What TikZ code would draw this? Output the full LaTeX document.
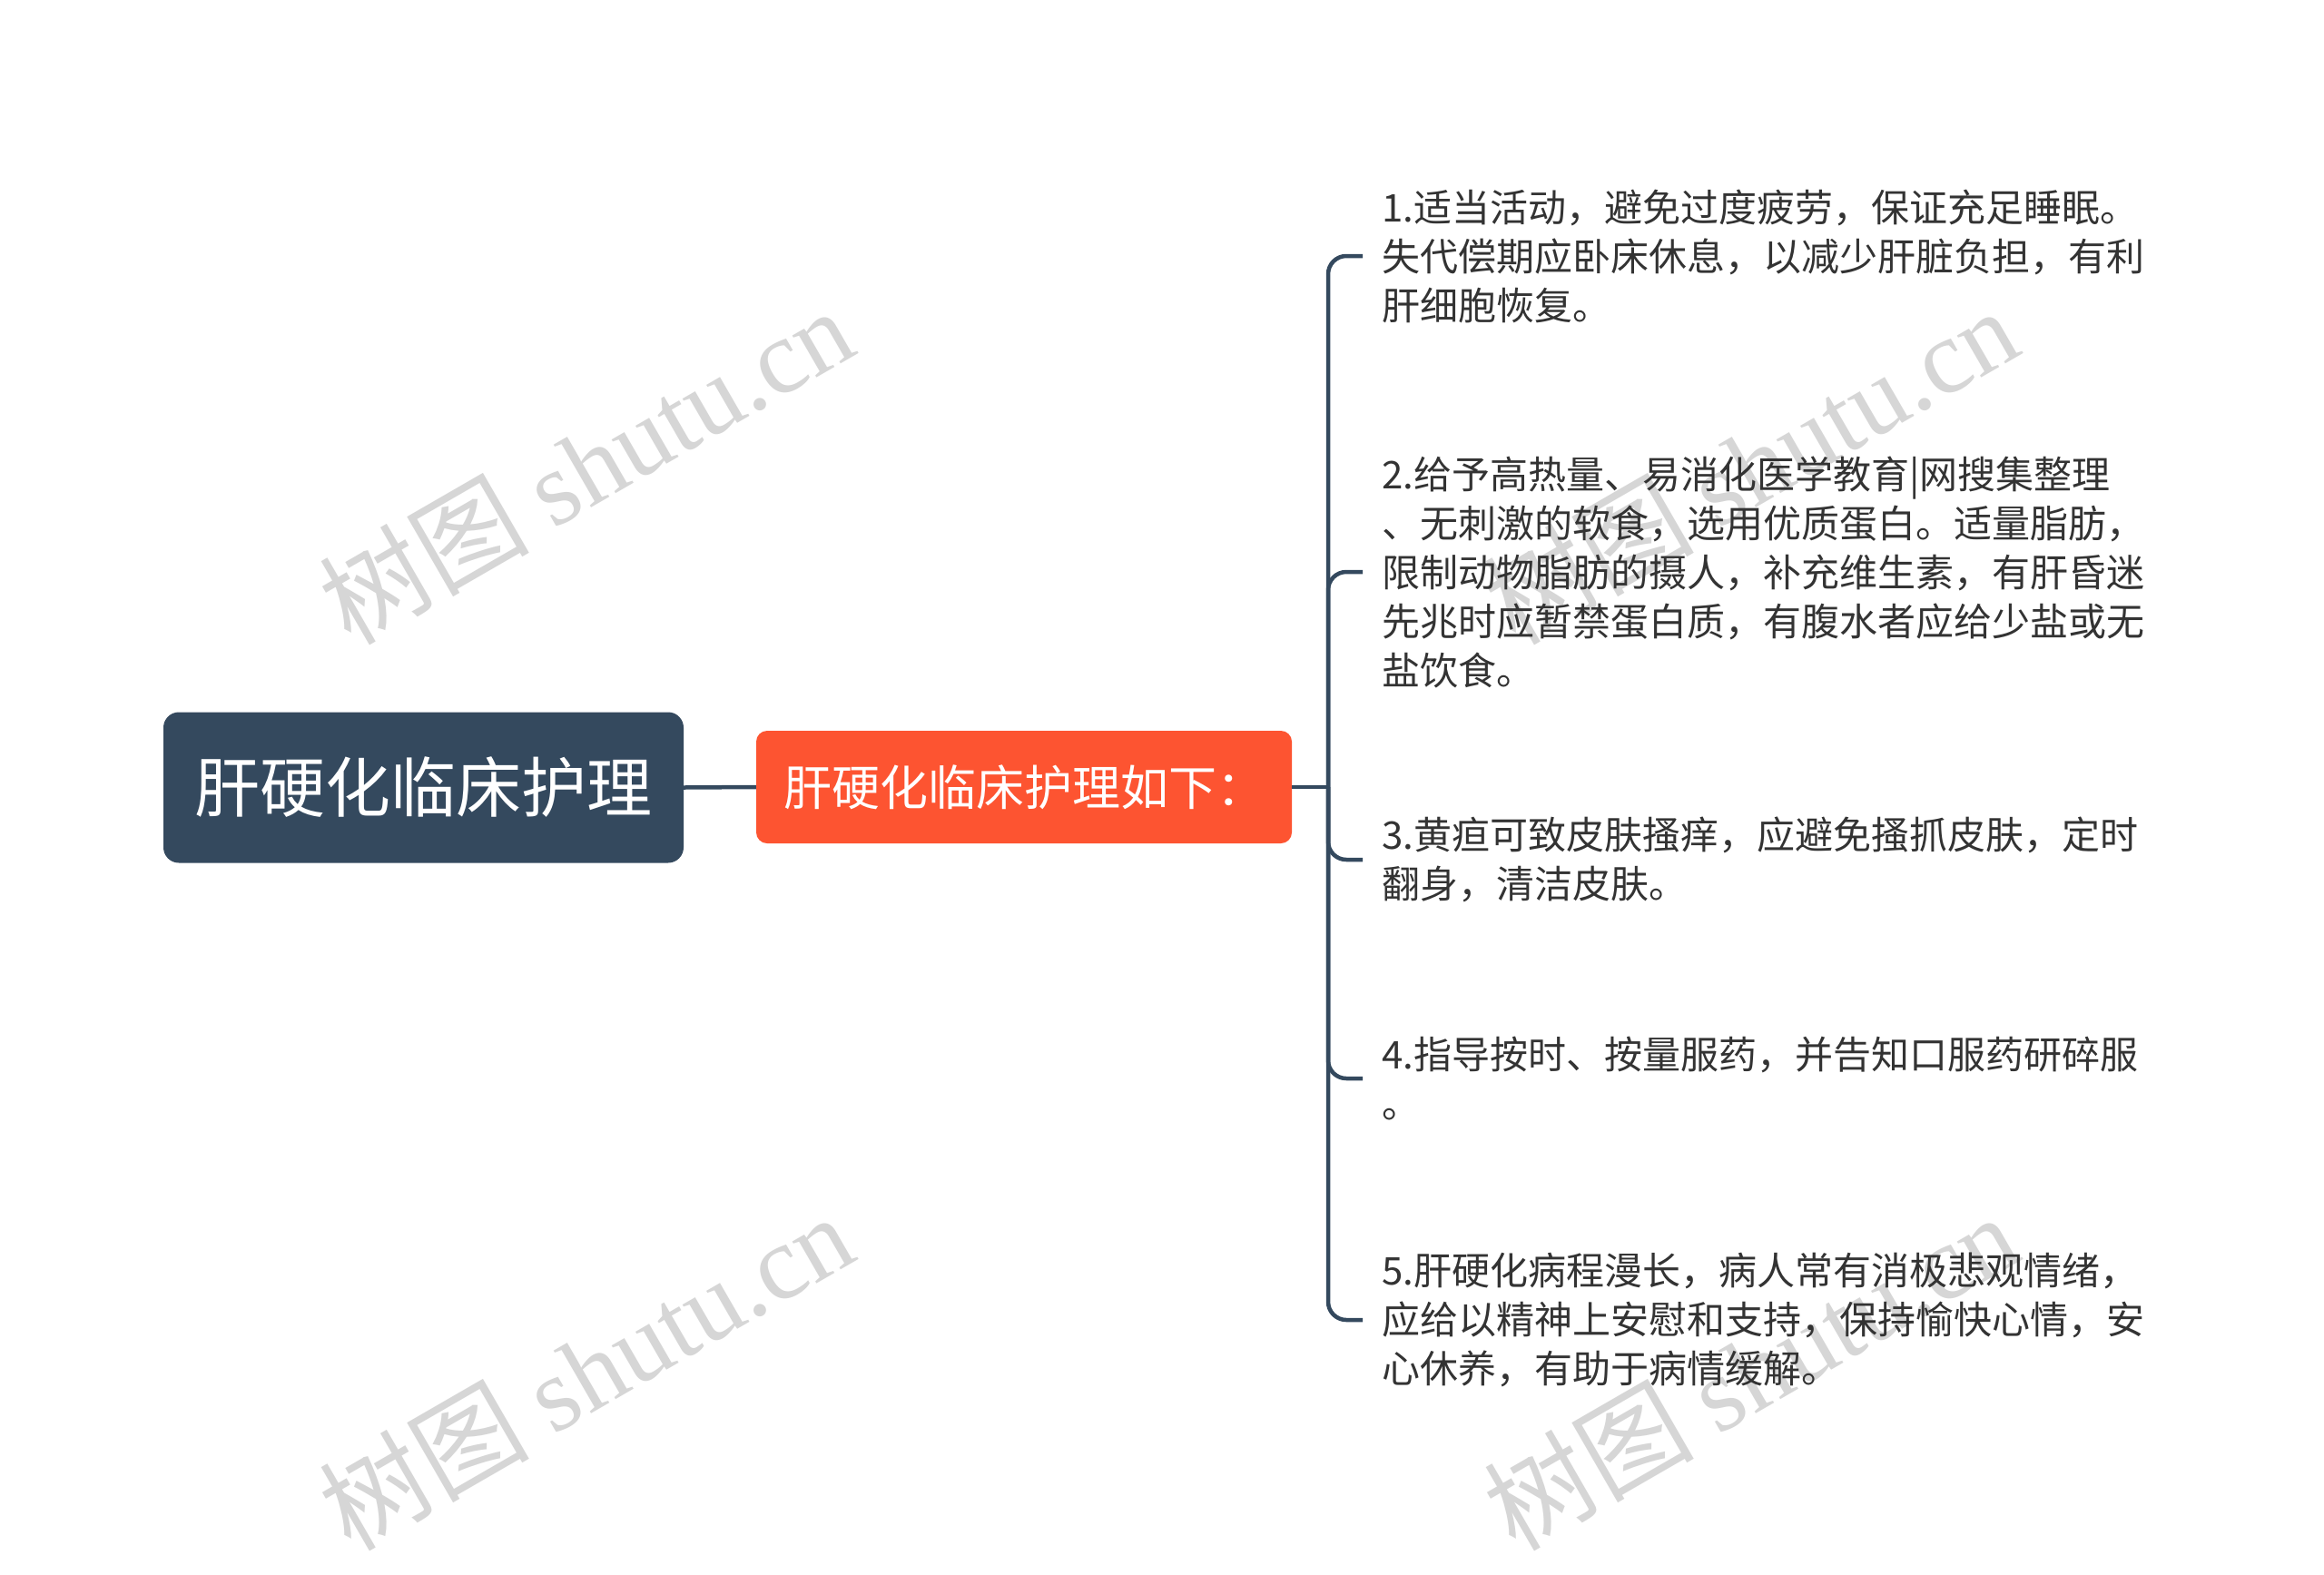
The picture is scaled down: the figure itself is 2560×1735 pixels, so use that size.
\documentclass[tikz,border=0pt]{standalone}
\usepackage{fontspec}
\setmainfont{Noto Sans CJK SC}
\newfontfamily\wmlatin{Liberation Serif}
\newfontfamily\cjkf{Noto Sans CJK SC}
\definecolor{rootc}{HTML}{34495E}
\definecolor{subc}{HTML}{FD5431}
\definecolor{textc}{HTML}{333333}
\definecolor{wmc}{HTML}{D6D6D6}
\tikzset{
  rootbox/.style={fill=rootc, rounded corners=17pt, minimum width=573pt, minimum height=166pt,
    text=white, inner sep=0pt, font=\fontsize{72}{80}\selectfont},
  subbox/.style={fill=subc, rounded corners=12pt, minimum width=590pt, minimum height=124pt,
    text=white, inner sep=0pt, font=\fontsize{53}{60}\selectfont},
  itemtext/.style={anchor=west, align=left, inner sep=0pt, text=textc,
    font=\fontsize{42}{54}\selectfont},
  conn/.style={draw=rootc, line width=4.5pt},
  wm/.style={text=wmc, rotate=30, inner sep=0pt, font=\fontsize{116}{120}\selectfont}
}
\begin{document}
\begin{tikzpicture}[x=1pt,y=-1pt]
\fill[white] (0,0) rectangle (2560,1735);
\useasboundingbox (0,0) rectangle (2560,1735);

% watermarks
\node[wm] (wm1) at (645,512) {{\cjkf 树图} {\wmlatin shutu.cn}};
\node[wm] (wm2) at (1928,512) {{\cjkf 树图} {\wmlatin shutu.cn}};
\node[wm] (wm3) at (645,1510) {{\cjkf 树图} {\wmlatin shutu.cn}};
\node[wm] (wm4) at (1928,1510) {{\cjkf 树图} {\wmlatin shutu.cn}};

% nodes
\node[rootbox] (root) at (466.5,867.5) {肝硬化临床护理};
\node[subbox] (sub) at (1128,867) {肝硬化临床护理如下：};

\node[itemtext] (i1) at (1522,282) {1.适当活动，避免过度疲劳，保证充足睡眠。\\失代偿期应卧床休息，以减少肝脏负担，有利\\肝细胞恢复。};
\node[itemtext] (i2) at (1522,630) {2.给予高热量、易消化医学教育|网搜集整理\\、无刺激的软食，选用优质蛋白。适量脂肪，\\限制动物脂肪的摄人，补充维生素，有肝昏迷\\先兆时应暂禁蛋白质，有腹水者应给少盐或无\\盐饮食。};
\node[itemtext] (i3) at (1522,947) {3.黄疸可致皮肤搔痒，应避免搔抓皮肤，定时\\翻身，清洁皮肤。};
\node[itemtext] (i4) at (1522,1188) {4.指导按时、按量服药，并告知口服药研碎服\\。};
\node[itemtext] (i5) at (1522,1454) {5.肝硬化病程漫长，病人常有消极悲观情绪，\\应给以精神上安慰和支持，保持愉快心情，安\\心休养，有助于病情缓解。};

% connectors
\coordinate (trunk) at (1463,867);
\draw[conn] (root.east) -- (sub.west);
\draw[conn] (sub.east) -- (trunk);
\foreach \i in {1,...,5}
  \draw[conn, rounded corners=20pt] (trunk) |- ([xshift=-21pt]i\i.west);
\end{tikzpicture}
\end{document}
